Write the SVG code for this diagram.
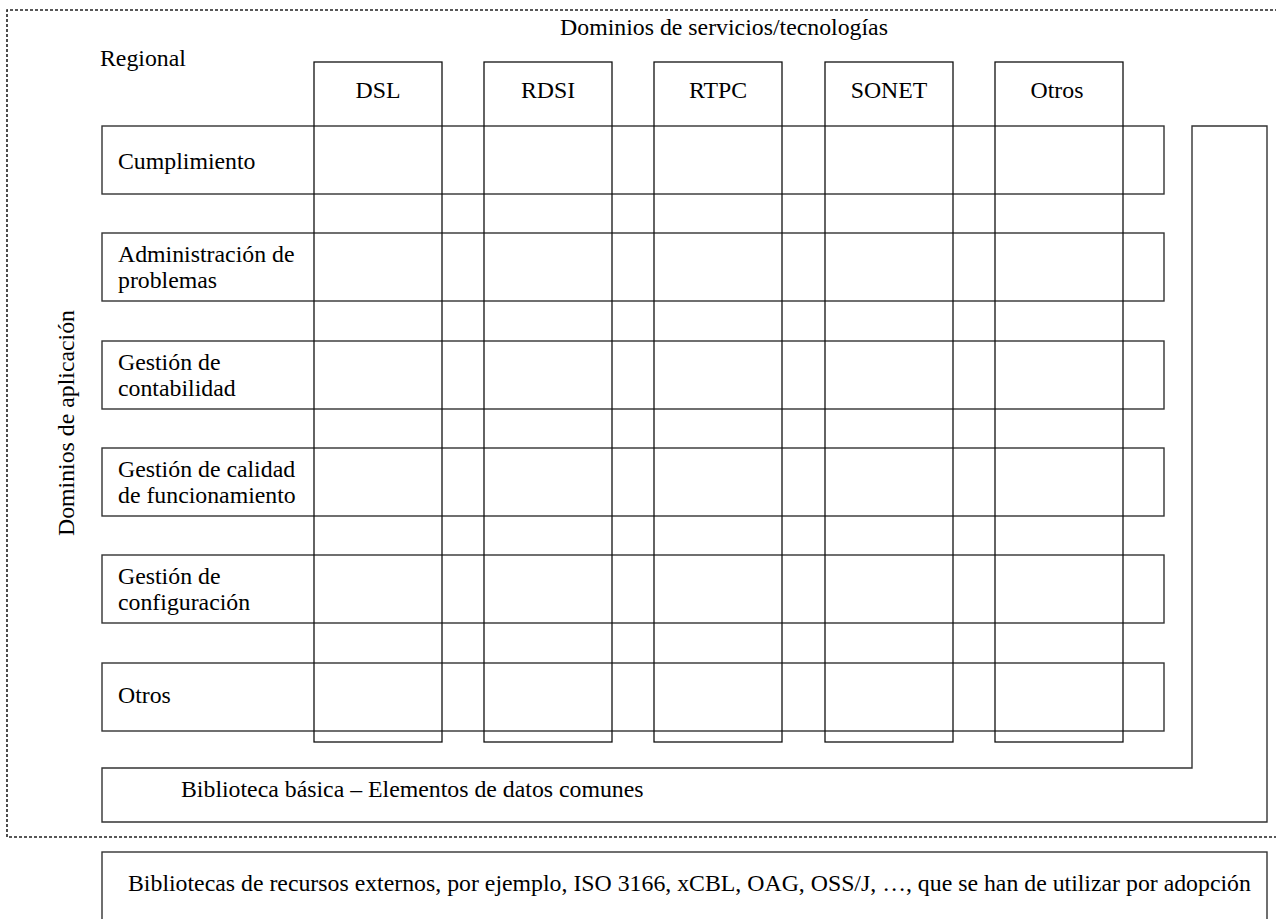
<svg xmlns="http://www.w3.org/2000/svg" width="1276" height="919" viewBox="0 0 1276 919">
<style>
text{font-family:"Liberation Serif","Times New Roman",serif;font-size:23.8px;fill:#000}
.mid{text-anchor:middle}
.box{fill:none;stroke:#333;stroke-width:1.4}
.col{fill:none;stroke:#111;stroke-width:1.3}
.dash{fill:none;stroke:#222;stroke-width:1.6;stroke-dasharray:3 2}
</style>
<rect width="1276" height="919" fill="#fff"/>
<g id="frame">
<path class="dash" d="M1278 10 H7 V837 H1278"/>
</g>
<g id="headers">
<text class="mid" x="724" y="35">Dominios de servicios/tecnologías</text>
<text x="100" y="66">Regional</text>
<text class="mid" transform="translate(74,423) rotate(-90)">Dominios de aplicación</text>
</g>
<g id="rows">
<g id="row-cumplimiento"><rect class="box" x="102" y="126" width="1062" height="68"/><text x="118" y="169">Cumplimiento</text></g>
<g id="row-problemas"><rect class="box" x="102" y="233" width="1062" height="68"/><text x="118" y="262">Administración de</text><text x="118" y="288">problemas</text></g>
<g id="row-contabilidad"><rect class="box" x="102" y="341" width="1062" height="68"/><text x="118" y="370">Gestión de</text><text x="118" y="396">contabilidad</text></g>
<g id="row-calidad"><rect class="box" x="102" y="448" width="1062" height="68"/><text x="118" y="477">Gestión de calidad</text><text x="118" y="503">de funcionamiento</text></g>
<g id="row-configuracion"><rect class="box" x="102" y="555" width="1062" height="68"/><text x="118" y="584">Gestión de</text><text x="118" y="610">configuración</text></g>
<g id="row-otros"><rect class="box" x="102" y="663" width="1062" height="68"/><text x="118" y="703">Otros</text></g>
</g>
<g id="columns">
<g id="col-dsl"><rect class="col" x="314" y="62" width="128" height="680"/><text class="mid" x="378" y="98">DSL</text></g>
<g id="col-rdsi"><rect class="col" x="484" y="62" width="128" height="680"/><text class="mid" x="548" y="98">RDSI</text></g>
<g id="col-rtpc"><rect class="col" x="654" y="62" width="128" height="680"/><text class="mid" x="718" y="98">RTPC</text></g>
<g id="col-sonet"><rect class="col" x="825" y="62" width="128" height="680"/><text class="mid" x="889" y="98">SONET</text></g>
<g id="col-otros"><rect class="col" x="995" y="62" width="128" height="680"/><text class="mid" x="1057" y="98">Otros</text></g>
</g>
<g id="biblioteca-basica">
<path class="box" d="M102 768 H1192 V126 H1267 V822 H102 Z"/>
<text x="181" y="797">Biblioteca básica – Elementos de datos comunes</text>
</g>
<g id="bibliotecas-externas">
<rect class="box" x="102" y="852" width="1165" height="80"/>
<text x="128" y="891">Bibliotecas de recursos externos, por ejemplo, ISO 3166, xCBL, OAG, OSS/J, …, que se han de utilizar por adopción</text>
</g>
<g id="connectors"></g>
</svg>
